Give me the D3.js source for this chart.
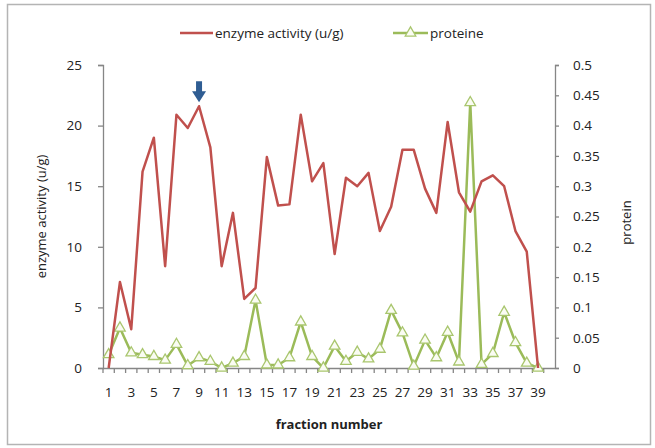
<!DOCTYPE html>
<html>
<head>
<meta charset="utf-8">
<script src="https://cdn.jsdelivr.net/npm/d3@7"></script>
<style>
  body { margin: 0; background: #fff; }
  svg text { font-family: "Open Sans", "DejaVu Sans", sans-serif; fill: #222; }
</style>
</head>
<body>
<div id="chart"></div>
<script>
// data
var fractions = [1, 2, 3, 4, 5, 6, 7, 8, 9, 10, 11, 12, 13, 14, 15, 16, 17, 18, 19, 20,
  21, 22, 23, 24, 25, 26, 27, 28, 29, 30, 31, 32, 33, 34, 35, 36, 37, 38, 39];
var enzyme = [0, 7.1, 3.2, 16.2, 19, 8.4, 20.9, 19.8, 21.6, 18.2, 8.4, 12.8, 5.7, 6.6, 17.4,
  13.4, 13.5, 20.9, 15.4, 16.9, 9.4, 15.7, 15.0, 16.1, 11.3, 13.3, 18.0, 18.0, 14.8, 12.8,
  20.3, 14.5, 12.9, 15.4, 15.9, 15.0, 11.3, 9.6, 0];
var proteine = [0.022, 0.066, 0.025, 0.022, 0.019, 0.013, 0.039, 0.004, 0.017, 0.011, 0.0,
  0.008, 0.019, 0.112, 0.005, 0.005, 0.017, 0.076, 0.019, 0.0, 0.036, 0.011, 0.026, 0.015,
  0.031, 0.095, 0.058, 0.003, 0.046, 0.017, 0.059, 0.01, 0.438, 0.006, 0.024, 0.092, 0.042,
  0.008, 0.0];
var leftTicks = [0, 5, 10, 15, 20, 25];
var rightTicks = [0, 0.05, 0.1, 0.15, 0.2, 0.25, 0.3, 0.35, 0.4, 0.45, 0.5];
var peakFraction = 9;

var svgWidth = 655;
var svgHeight = 448;
var plot = { left: 103, right: 555, top: 65, bottom: 368 };

var red = '#c0504d';
var green = '#9bbb59';
var axisColor = '#868686';

var svg = d3.select('#chart').append('svg')
  .attr('width', svgWidth).attr('height', svgHeight);

// chart border
svg.append('rect')
  .attr('x', 7.5).attr('y', 4.5)
  .attr('width', 643).attr('height', 440)
  .attr('fill', 'none').attr('stroke', '#b4b4b4').attr('stroke-width', 1.5);

// one empty slot after 39, like the original
var step = (plot.right - plot.left) / (fractions.length + 1);
var x = d3.scaleBand()
  .domain(fractions)
  .range([plot.left, plot.left + step * fractions.length]);
var cx = d => x(d) + x.bandwidth() / 2;

var y = d3.scaleLinear().domain([0, 25]).range([plot.bottom, plot.top]);
var y2 = d3.scaleLinear().domain([0, 0.5]).range([plot.bottom, plot.top]);

// left axis
var leftAxis = d3.axisLeft(y).tickValues(leftTicks).tickSize(5).tickPadding(16);
var gl = svg.append('g').attr('transform', `translate(${plot.left},0)`).call(leftAxis);

// right axis
var rightAxis = d3.axisRight(y2).tickValues(rightTicks).tickSize(4).tickPadding(14)
  .tickFormat(d => String(+d.toFixed(2)));
var gr = svg.append('g').attr('transform', `translate(${plot.right},0)`).call(rightAxis);

// bottom axis, labels on every other fraction
var bottomAxis = d3.axisBottom(x).tickSize(0).tickPadding(19)
  .tickFormat((d, i) => i % 2 === 0 ? d : '');
var gb = svg.append('g').attr('transform', `translate(0,${plot.bottom})`).call(bottomAxis);
gb.select('.domain').attr('d', `M${plot.left},0.5H${plot.right}`);
// tick marks between the categories
var bounds = fractions.map(d => x(d)).concat([x(fractions[fractions.length - 1]) + x.bandwidth()]);
gb.selectAll('line.sep')
  .data(bounds)
  .enter().append('line')
  .attr('class', 'sep')
  .attr('x1', d => d).attr('x2', d => d)
  .attr('y1', 0).attr('y2', 5);

[gl, gr, gb].forEach(function(g) {
  g.selectAll('.domain').attr('stroke', axisColor).attr('stroke-width', 1.3);
  g.selectAll('line').attr('stroke', axisColor).attr('stroke-width', 1.3);
  g.selectAll('text').attr('font-size', '13.5px').attr('fill', '#222');
});

// series
var proteinLine = d3.line().x((d, i) => cx(fractions[i])).y(d => y2(d));
var enzymeLine = d3.line().x((d, i) => cx(fractions[i])).y(d => y(d));

svg.append('path')
  .datum(proteine)
  .attr('d', proteinLine)
  .attr('fill', 'none').attr('stroke', green).attr('stroke-width', 2.5)
  .attr('stroke-linejoin', 'round');

var tri = d3.symbol().type(d3.symbolTriangle).size(48);
svg.append('g').selectAll('path')
  .data(proteine)
  .enter().append('path')
  .attr('d', tri)
  .attr('transform', (d, i) => `translate(${cx(fractions[i])},${y2(d)})`)
  .attr('fill', '#fafcf3').attr('stroke', '#a9c66e').attr('stroke-width', 1.3);

svg.append('path')
  .datum(enzyme)
  .attr('d', enzymeLine)
  .attr('fill', 'none').attr('stroke', red).attr('stroke-width', 2.5)
  .attr('stroke-linejoin', 'round');

// arrow marking the peak fraction
var ax = cx(peakFraction);
var tip = y(enzyme[fractions.indexOf(peakFraction)]) - 4;
svg.append('path')
  .attr('d', `M${ax - 3},${tip - 21}H${ax + 3}V${tip - 11}H${ax + 7}L${ax},${tip}L${ax - 7},${tip - 11}H${ax - 3}Z`)
  .attr('fill', '#2f5d93');

// axis titles
svg.append('text')
  .attr('transform', `translate(46,${(plot.top + plot.bottom) / 2}) rotate(-90)`)
  .attr('text-anchor', 'middle')
  .attr('font-size', '13px')
  .text('enzyme activity (u/g)');

svg.append('text')
  .attr('transform', `translate(631,${(plot.top + plot.bottom) / 2 + 6}) rotate(-90)`)
  .attr('text-anchor', 'middle')
  .attr('font-size', '13px')
  .text('protein');

svg.append('text')
  .attr('x', (plot.left + plot.right) / 2)
  .attr('y', 429)
  .attr('text-anchor', 'middle')
  .attr('font-size', '13px')
  .attr('font-weight', 'bold')
  .text('fraction number');

// legend
var legend = svg.append('g').attr('transform', 'translate(0,33)');
legend.append('line')
  .attr('x1', 180).attr('x2', 213).attr('y1', 0).attr('y2', 0)
  .attr('stroke', red).attr('stroke-width', 2.5);
legend.append('text')
  .attr('x', 215).attr('y', 4.5)
  .attr('font-size', '13.5px')
  .text('enzyme activity (u/g)');
legend.append('line')
  .attr('x1', 393).attr('x2', 428).attr('y1', 0).attr('y2', 0)
  .attr('stroke', green).attr('stroke-width', 2.5);
legend.append('path')
  .attr('d', tri)
  .attr('transform', 'translate(410.5,0)')
  .attr('fill', '#fafcf3').attr('stroke', '#a9c66e').attr('stroke-width', 1.3);
legend.append('text')
  .attr('x', 430).attr('y', 4.5)
  .attr('font-size', '13.5px')
  .text('proteine');
</script>
</body>
</html>
